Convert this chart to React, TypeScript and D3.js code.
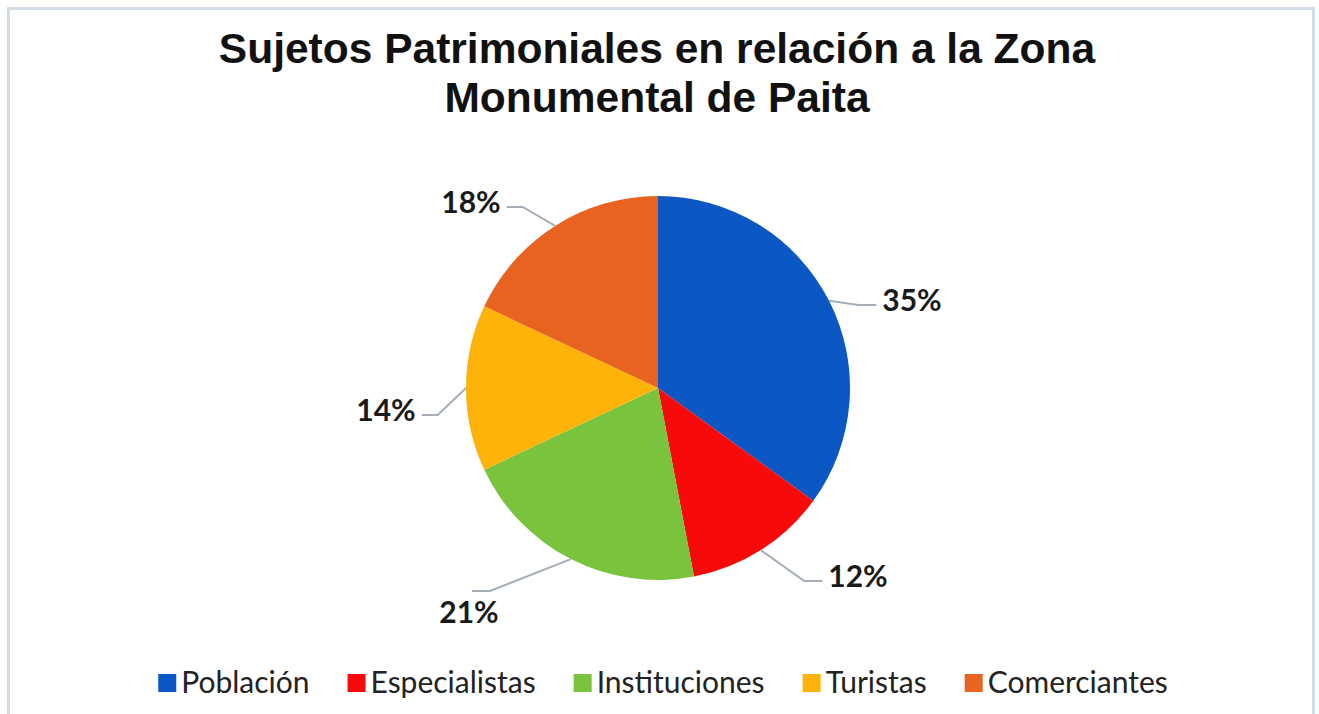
import React, { useEffect, useRef } from "react";
import * as d3 from "d3";

const titleLines = ["Sujetos Patrimoniales en relación a la Zona", "Monumental de Paita"];
const categories = ["Población", "Especialistas", "Instituciones", "Turistas", "Comerciantes"];
const values = [35, 12, 21, 14, 18];
const valueLabels = ["35%", "12%", "21%", "14%", "18%"];
const colors = ["#0B57C3", "#F80A0A", "#79C43C", "#FDB30A", "#E8631F"];

// layout for data labels (offset of label center from pie center, and side of leader)
const labelLayout: { dx: number; dy: number; side: "left" | "right" | "bottom" }[] = [
  { dx: 254, dy: -88, side: "right" },
  { dx: 200, dy: 188, side: "right" },
  { dx: -189, dy: 224, side: "bottom" },
  { dx: -272, dy: 22, side: "left" },
  { dx: -187, dy: -186, side: "left" },
];

const W = 1319;
const H = 714;

export default function App() {
  const ref = useRef<SVGSVGElement>(null);

  useEffect(() => {
    const svg = d3.select(ref.current);
    svg.selectAll("*").remove();

    svg.append("rect").attr("width", W).attr("height", H).attr("fill", "#ffffff");
    // frame
    svg
      .append("path")
      .attr("d", `M8.5,${H + 5} V8.5 H1313.5 V${H + 5}`)
      .attr("fill", "none")
      .attr("stroke", "#D3DCE7")
      .attr("stroke-width", 3);

    // title
    const title = svg
      .append("text")
      .attr("x", 657)
      .attr("text-anchor", "middle")
      .attr("font-family", "'Liberation Sans', Arial, sans-serif")
      .attr("font-weight", "bold")
      .attr("font-size", 42.5)
      .attr("fill", "#111");
    titleLines.forEach((t, i) => {
      title.append("tspan").attr("x", 657).attr("y", 63 + i * 49).text(t);
    });

    const cx = 658;
    const cy = 388;
    const r = 192;

    const pie = d3
      .pie<number>()
      .sort(null)
      .value((d) => d);
    const arcs = pie(values);
    const arc = d3.arc<d3.PieArcDatum<number>>().innerRadius(0).outerRadius(r);

    const g = svg.append("g").attr("transform", `translate(${cx},${cy})`);
    g.selectAll("path.slice")
      .data(arcs)
      .join("path")
      .attr("class", "slice")
      .attr("d", arc as any)
      .attr("fill", (_, i) => colors[i]);

    // labels and leader lines
    const fontSize = 30;
    arcs.forEach((a, i) => {
      const mid = (a.startAngle + a.endAngle) / 2;
      const sx = r * Math.sin(mid);
      const sy = -r * Math.cos(mid);
      const L = labelLayout[i];
      const txt = g
        .append("text")
        .attr("x", L.dx)
        .attr("y", L.dy)
        .attr("dy", "0.36em")
        .attr("text-anchor", "middle")
        .attr("font-family", "Lato, 'Open Sans', sans-serif")
        .attr("font-weight", "bold")
        .attr("font-size", fontSize)
        .attr("fill", "#1a1a1a")
        .text(valueLabels[i]);
      const w = (txt.node() as SVGTextElement).getComputedTextLength();
      let pts: [number, number][];
      if (L.side === "right") {
        const ex = L.dx - w / 2 - 6;
        const ey = L.dy + 5;
        pts = [
          [sx, sy],
          [ex - 18, ey],
          [ex, ey],
        ];
      } else if (L.side === "left") {
        const ex = L.dx + w / 2 + 6;
        const ey = L.dy + 5;
        pts = [
          [sx, sy],
          [ex + 16, ey],
          [ex, ey],
        ];
      } else {
        const ey = L.dy - 21;
        pts = [
          [sx, sy],
          [L.dx + 21, ey],
          [L.dx + 3, ey],
        ];
      }
      g.insert("path", "text")
        .attr("d", d3.line()(pts) as string)
        .attr("fill", "none")
        .attr("stroke", "#A5AEB8")
        .attr("stroke-width", 2);
    });

    // legend
    const legend = svg.append("g");
    const items = categories.map((c, i) => {
      const it = legend.append("g");
      it.append("rect").attr("width", 18).attr("height", 18).attr("y", -19).attr("fill", colors[i]);
      const t = it
        .append("text")
        .attr("x", 23)
        .attr("font-family", "Lato, 'Open Sans', sans-serif")
        .attr("font-size", 30)
        .attr("fill", "#222")
        .text(c);
      const w = 23 + (t.node() as SVGTextElement).getComputedTextLength();
      return { it, w };
    });
    const gap = 38;
    const total = items.reduce((s, d) => s + d.w, 0) + gap * (items.length - 1);
    let x = 663 - total / 2;
    items.forEach((d) => {
      d.it.attr("transform", `translate(${x},${693})`);
      x += d.w + gap;
    });
  }, []);

  return (
    <svg
      ref={ref}
      width={W}
      height={H}
      style={{ position: "absolute", left: 0, top: 0, display: "block" }}
    />
  );
}
